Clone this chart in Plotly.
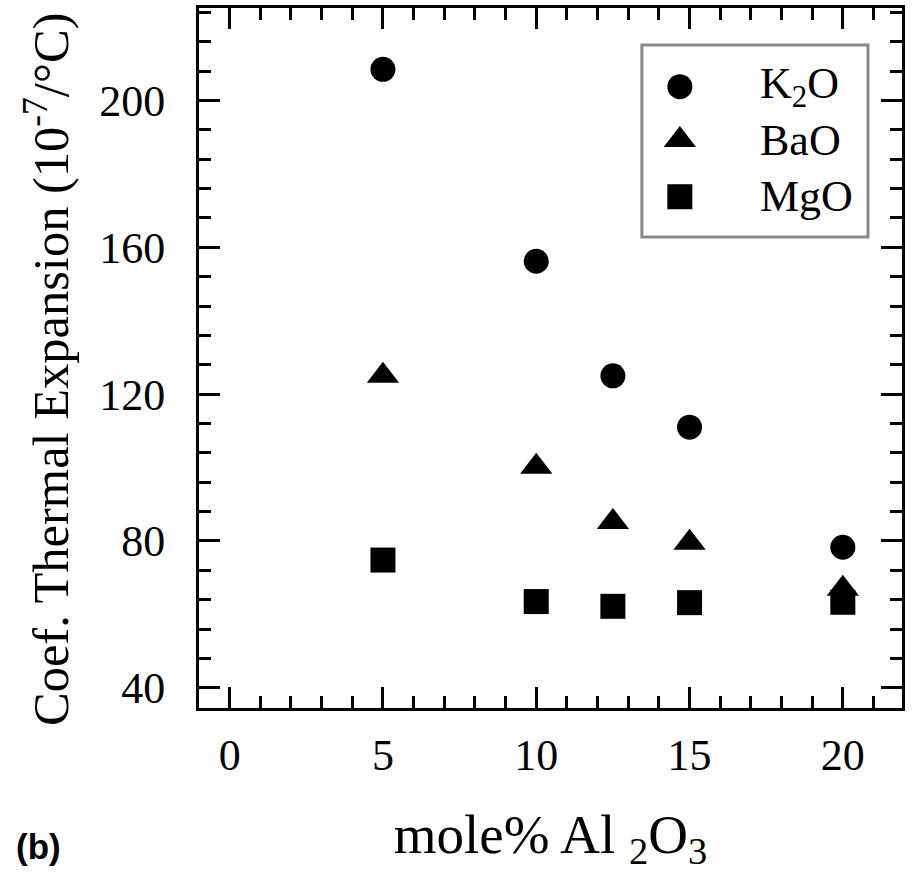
import plotly.graph_objects as go

# Data (mole% Al2O3 vs coefficient of thermal expansion, 10^-7/°C)
x_k2o = [5, 10, 12.5, 15, 20]
y_k2o = [208.5, 156.2, 125.0, 111.0, 78.3]

x_bao = [5, 10, 12.5, 15, 20]
y_bao = [125.0, 100.2, 85.2, 79.5, 67.0]

x_mgo = [5, 10, 12.5, 15, 20]
y_mgo = [74.8, 63.5, 62.2, 63.2, 63.3]

series_names = ["K<sub>2</sub>O", "BaO", "MgO"]
series_symbols = ["circle", "triangle-up", "square"]
series_sizes = [25, 28, 25]

x_ticks = [0, 5, 10, 15, 20]
y_ticks = [40, 80, 120, 160, 200]

x_title = "mole% Al <sub>2</sub>O<sub>3</sub>"
y_title = "Coef. Thermal Expansion (10<sup>-7</sup>/°C)"
panel_label = "<b>(b)</b>"

SERIF = "Liberation Serif, Times New Roman, serif"

fig = go.Figure()
for xs, ys, nm, sym, sz in zip([x_k2o, x_bao, x_mgo], [y_k2o, y_bao, y_mgo],
                               series_names, series_symbols, series_sizes):
    fig.add_trace(go.Scatter(x=xs, y=ys, mode="markers", name=nm, showlegend=False,
                             marker=dict(symbol=sym, size=sz, color="black")))

# Hand-made legend (box, keys on an overlay [0,1] axis, labels as annotations)
leg_key_x = 0.684
leg_text_x = 0.795
leg_rows_y = [0.8876, 0.8114, 0.7304]
fig.add_shape(type="rect", xref="paper", yref="paper",
              x0=0.630, x1=0.9516, y0=0.673, y1=0.947,
              line=dict(color="#8a8a8a", width=3), fillcolor="rgba(0,0,0,0)", layer="below")
for sym, sz, ry, nm in zip(series_symbols, series_sizes, leg_rows_y, series_names):
    fig.add_trace(go.Scatter(x=[leg_key_x], y=[ry], mode="markers",
                             xaxis="x2", yaxis="y2", showlegend=False, hoverinfo="skip",
                             marker=dict(symbol=sym, size=sz, color="#000000",
                                         line=dict(width=0))))
    fig.add_annotation(text=nm, xref="paper", yref="paper", x=leg_text_x, y=ry,
                       xanchor="left", yanchor="middle", showarrow=False,
                       font=dict(family=SERIF, size=44, color="black"))

axis_common = dict(
    showline=True, linecolor="black", linewidth=3, mirror="ticks",
    ticks="inside", ticklen=21, tickwidth=3, tickcolor="black",
    showgrid=False, zeroline=False,
    tickfont=dict(family=SERIF, size=44, color="black"),
)

fig.update_layout(
    template="none",
    width=913, height=873,
    margin=dict(l=199, r=11, t=8, b=165),
    paper_bgcolor="white", plot_bgcolor="white",
    showlegend=False,
    xaxis=dict(
        **axis_common,
        range=[-1, 21.93],
        tickvals=x_ticks, ticktext=[str(v) for v in x_ticks],
        minor=dict(ticks="inside", ticklen=12, tickwidth=3, tickcolor="black", dtick=1, tick0=0),
        ticklabelstandoff=6,
        title=dict(text=x_title,
                   font=dict(family=SERIF, size=55, color="black"), standoff=36),
    ),
    yaxis=dict(
        **axis_common,
        range=[34.5, 225.2],
        tickvals=y_ticks, ticktext=[str(v) for v in y_ticks],
        minor=dict(ticks="inside", ticklen=12, tickwidth=3, tickcolor="black", dtick=8, tick0=0),
        ticklabelstandoff=22,
    ),
    xaxis2=dict(overlaying="x", range=[0, 1], visible=False, fixedrange=True),
    yaxis2=dict(overlaying="y", range=[0, 1], visible=False, fixedrange=True),
)

# y-axis title (placed as rotated text to match the original's offset)
fig.add_annotation(text=y_title, xref="paper", yref="paper",
                   x=-0.2148, y=0.4843, xanchor="center", yanchor="middle",
                   textangle=-90, showarrow=False,
                   font=dict(family=SERIF, size=50.5, color="black"))

fig.add_annotation(text=panel_label, xref="paper", yref="paper",
                   x=-0.2276, y=-0.1972, xanchor="center", yanchor="middle",
                   showarrow=False,
                   font=dict(family="Liberation Sans, Arial, sans-serif", size=35, color="black"))

fig.write_html("out.html")
